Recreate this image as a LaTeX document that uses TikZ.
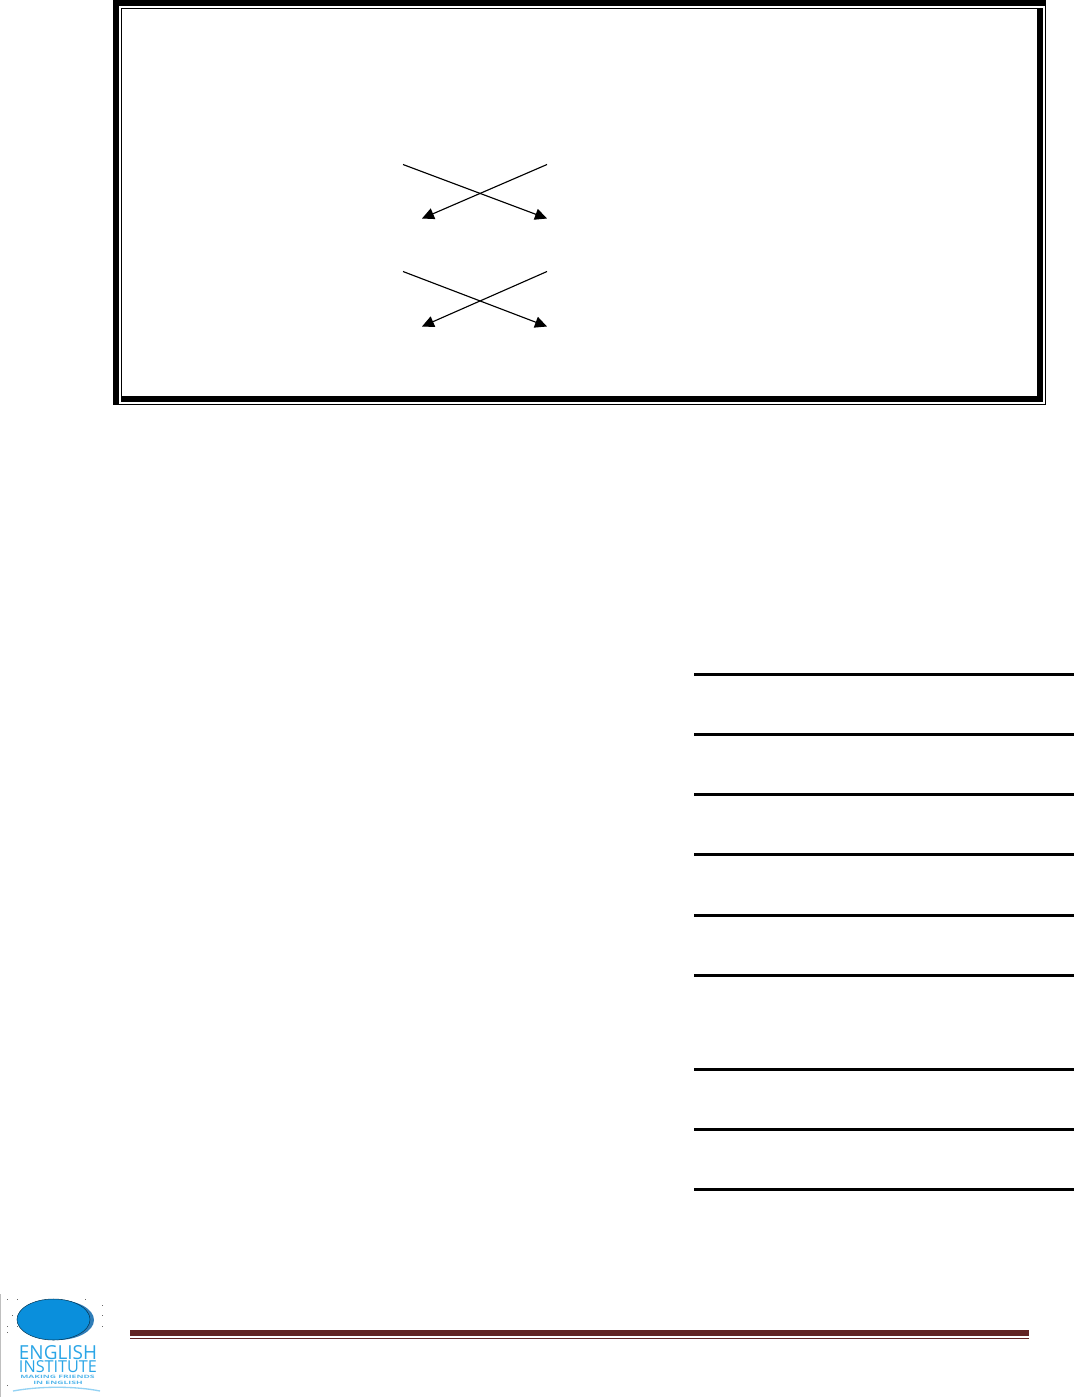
\documentclass[tikz,border=0pt]{standalone}
\usepackage{fontspec}
\setsansfont{Open Sans}
\usetikzlibrary{arrows.meta}
\definecolor{rulered}{HTML}{622423}
\definecolor{logoblue}{HTML}{0A8FDC}
\definecolor{logodark}{HTML}{2F7DB8}
\definecolor{logotext}{HTML}{2AA5E6}
\tikzset{
    crossline/.style={draw=black,line width=0.85pt,-{Triangle[length=9pt,width=8.5pt]}},
    answerline/.style={draw=black,line width=2.25pt},
    logotitle/.style={inner sep=0pt,text=logotext,font=\sffamily\fontsize{14.5}{14.5}\selectfont,transform shape},
    logosmall/.style={inner sep=0pt,text=logotext!80,font=\sffamily\bfseries\fontsize{3.4}{3.4}\selectfont,transform shape}
}
\begin{document}
\begin{tikzpicture}[x=0.75pt,y=-0.75pt]
    \useasboundingbox (0,0) rectangle (1074,1397);
    % frame
    \fill (113,0) rectangle (1046,6);
    \fill (113,0) rectangle (119,405);
    \fill (1045,6) rectangle (1046,405);
    \fill (113,404) rectangle (1046,405);
    \fill (121,7.5) rectangle (1043,8.5);
    \fill (121,8) rectangle (122,402);
    \fill (1037,8) rectangle (1043,402);
    \fill (121,396) rectangle (1043,402);
    % crossed arrows
    \coordinate (tl1) at (403,164.5);
    \coordinate (tr1) at (547,164.5);
    \coordinate (bl1) at (422,218.5);
    \coordinate (br1) at (547,218.5);
    \coordinate (tl2) at (403,271.5);
    \coordinate (tr2) at (547,271.5);
    \coordinate (bl2) at (422,326.5);
    \coordinate (br2) at (547,326.5);
    \draw[crossline] (tl1) -- (br1);
    \draw[crossline] (tr1) -- (bl1);
    \draw[crossline] (tl2) -- (br2);
    \draw[crossline] (tr2) -- (bl2);
    % answer lines
    \foreach \ypos in {674.5,734.5,794.5,854.5,915.5,975.5,1069.5,1129.5,1189.5}
        \draw[answerline] (694,\ypos) -- (1074,\ypos);
    % footer
    \fill[rulered] (130,1330) rectangle (1029,1336);
    \fill[rulered] (130,1338) rectangle (1029,1339);
    % logo
    \fill[black!25] (0,1294) rectangle (1,1397);
    \foreach \xpos/\ypos in {7/1299,17/1299,85/1299,102/1305,12/1315,102/1315,7/1326,17/1326,102/1326,7/1332,7/1385}
        \fill[black!60] (\xpos,\ypos) rectangle (\xpos+1,\ypos+1);
    \fill[logodark] (57.5,1320) ellipse (36.5 and 20);
    \draw[black!60!logoblue,fill=logoblue,line width=0.4pt] (53.5,1319.5) ellipse (36.5 and 20.5);
    \node[logotitle,xscale=0.98] (english) at (58,1352.5) {ENGLISH};
    \node[logotitle,xscale=0.84,yscale=0.85] (institute) at (58,1367) {INSTITUTE};
    \node[logosmall,xscale=1.9] (making) at (57.5,1376.5) {MAKING FRIENDS};
    \node[logosmall,xscale=1.9] (inenglish) at (58,1383) {IN ENGLISH};
    \draw[logotext!50,line width=1pt] (13,1391) .. controls (40,1386) and (75,1386) .. (100,1391);
\end{tikzpicture}
\end{document}
